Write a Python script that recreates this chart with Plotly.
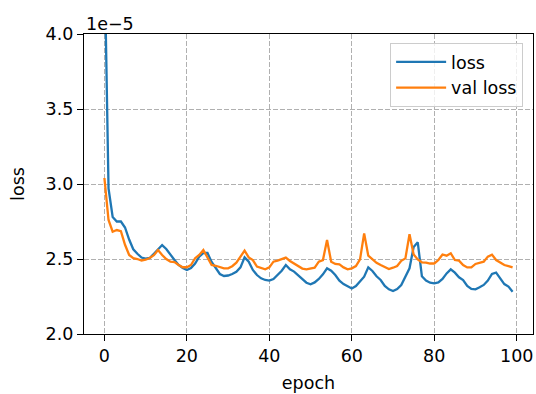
import plotly.graph_objects as go

# Training history (values in units of 1e-5)
epochs = list(range(100))

loss = [
    4.55, 2.97, 2.78, 2.75, 2.75, 2.71, 2.63, 2.565, 2.535, 2.51,
    2.503, 2.507, 2.535, 2.565, 2.593, 2.567, 2.527, 2.493, 2.46, 2.44,
    2.427, 2.44, 2.47, 2.515, 2.54, 2.54, 2.48, 2.44, 2.40, 2.387,
    2.39, 2.40, 2.415, 2.444, 2.511, 2.482, 2.427, 2.393, 2.371, 2.36,
    2.356, 2.367, 2.393, 2.422, 2.46, 2.431, 2.416, 2.393, 2.367, 2.342,
    2.331, 2.344, 2.367, 2.398, 2.438, 2.422, 2.393, 2.356, 2.333, 2.316,
    2.304, 2.32, 2.349, 2.382, 2.444, 2.42, 2.385, 2.36, 2.32, 2.298,
    2.287, 2.3, 2.327, 2.38, 2.438, 2.58, 2.611, 2.385, 2.356, 2.342,
    2.338, 2.344, 2.367, 2.404, 2.431, 2.409, 2.378, 2.36, 2.32, 2.3,
    2.298, 2.311, 2.327, 2.356, 2.4, 2.409, 2.371, 2.333, 2.316, 2.282,
]

val_loss = [
    3.04, 2.76, 2.682, 2.693, 2.685, 2.595, 2.527, 2.505, 2.5, 2.49,
    2.495, 2.507, 2.525, 2.56, 2.527, 2.5, 2.482, 2.48, 2.46, 2.445,
    2.445, 2.46, 2.505, 2.527, 2.56, 2.505, 2.46, 2.455, 2.445, 2.438,
    2.438, 2.452, 2.475, 2.516, 2.556, 2.511, 2.493, 2.449, 2.438, 2.431,
    2.444, 2.482, 2.489, 2.498, 2.509, 2.487, 2.471, 2.453, 2.436, 2.431,
    2.438, 2.442, 2.482, 2.493, 2.627, 2.482, 2.467, 2.464, 2.444, 2.431,
    2.438, 2.453, 2.498, 2.671, 2.522, 2.498, 2.475, 2.46, 2.449, 2.433,
    2.442, 2.453, 2.488, 2.504, 2.665, 2.53, 2.497, 2.478, 2.476, 2.47,
    2.47, 2.493, 2.53, 2.522, 2.538, 2.493, 2.489, 2.46, 2.444, 2.444,
    2.467, 2.476, 2.482, 2.516, 2.529, 2.493, 2.476, 2.46, 2.453, 2.444,
]

x_ticks = [0, 20, 40, 60, 80, 100]
y_ticks = [2.0, 2.5, 3.0, 3.5, 4.0]

FONT = "DejaVu Sans"
FS = 17.5

fig = go.Figure()
fig.add_trace(go.Scatter(x=epochs, y=loss, mode="lines", name="loss",
                         line=dict(color="#1f77b4", width=2.3)))
fig.add_trace(go.Scatter(x=epochs, y=val_loss, mode="lines", name="val loss",
                         line=dict(color="#ff7f0e", width=2.3)))

axis_common = dict(
    showline=True, linecolor="black", linewidth=1.2, mirror=True,
    ticks="outside", ticklen=6, tickwidth=1.2, tickcolor="black",
    showgrid=True, gridcolor="#b0b0b0", gridwidth=1.1, griddash="5px,2px",
    zeroline=False, tickfont=dict(family=FONT, size=FS, color="black"),
)

fig.update_xaxes(range=[-4.95, 103.95], tickvals=x_ticks,
                 title=dict(text="epoch", font=dict(family=FONT, size=FS, color="black"), standoff=11),
                 **axis_common)
fig.update_yaxes(range=[2.0, 4.0], tickvals=y_ticks, tickformat=".1f",
                 title=dict(text="loss", font=dict(family=FONT, size=FS, color="black"), standoff=16),
                 **axis_common)

fig.add_annotation(text="1e\u22125", xref="paper", yref="paper", x=0, y=1,
                   xanchor="left", yanchor="bottom", showarrow=False,
                   font=dict(family=FONT, size=FS, color="black"), yshift=-2)

fig.update_layout(
    width=536, height=394,
    margin=dict(l=84, r=3, t=34, b=60),
    paper_bgcolor="white", plot_bgcolor="white",
    font=dict(family=FONT, size=FS, color="black"),
    legend=dict(x=0.978, y=0.97, xanchor="right", yanchor="top",
                bgcolor="rgba(255,255,255,0.8)", bordercolor="#cccccc", borderwidth=1,
                font=dict(family=FONT, size=FS, color="black"),
                itemwidth=50, tracegroupgap=3),
)

fig.write_html("out.html")
